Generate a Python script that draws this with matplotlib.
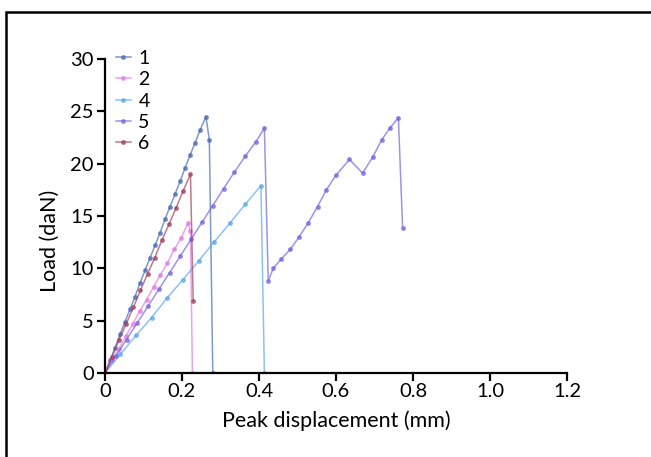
import matplotlib
matplotlib.use("Agg")
import matplotlib.pyplot as plt
from matplotlib.patches import Rectangle

# specimen curves: displacement (mm) / load (daN)
x1 = [0, 0.013, 0.026, 0.039, 0.052, 0.065, 0.078, 0.091, 0.104, 0.117, 0.130,
      0.143, 0.156, 0.169, 0.182, 0.195, 0.208, 0.221, 0.234, 0.247, 0.262, 0.271, 0.280]
y1 = [0, 1.2, 2.4, 3.7, 4.9, 6.1, 7.3, 8.6, 9.8, 11.0, 12.2,
      13.4, 14.7, 15.9, 17.1, 18.3, 19.6, 20.8, 22.0, 23.2, 24.5, 22.3, 0]

x2 = [0, 0.018, 0.036, 0.054, 0.072, 0.090, 0.108, 0.126, 0.144, 0.162, 0.180,
      0.198, 0.215, 0.222, 0.227]
y2 = [0, 1.2, 2.3, 3.5, 4.7, 5.9, 7.0, 8.2, 9.4, 10.5, 11.8,
      12.9, 14.3, 13.6, 0]

x4 = [0, 0.040, 0.081, 0.121, 0.162, 0.202, 0.243, 0.283, 0.324, 0.364, 0.405, 0.414]
y4 = [0, 1.8, 3.6, 5.3, 7.2, 8.9, 10.7, 12.5, 14.3, 16.1, 17.9, 0]

x5 = [0, 0.028, 0.056, 0.084, 0.112, 0.140, 0.168, 0.196, 0.224, 0.252, 0.280,
      0.308, 0.336, 0.364, 0.392, 0.414, 0.424, 0.437, 0.458, 0.481, 0.504,
      0.527, 0.552, 0.575, 0.600, 0.635, 0.669, 0.695, 0.719, 0.740, 0.762, 0.773]
y5 = [0, 1.6, 3.2, 4.8, 6.4, 8.0, 9.6, 11.2, 12.8, 14.4, 16.0,
      17.6, 19.2, 20.7, 22.1, 23.4, 8.8, 10.0, 10.9, 11.8, 13.0,
      14.3, 15.9, 17.5, 18.9, 20.4, 19.1, 20.6, 22.3, 23.4, 24.4, 13.9]

x6 = [0, 0.018, 0.037, 0.055, 0.074, 0.092, 0.111, 0.129, 0.148, 0.166, 0.185,
      0.203, 0.222, 0.229]
y6 = [0, 1.5, 3.2, 4.7, 6.3, 7.9, 9.5, 11.0, 12.7, 14.2, 15.8,
      17.4, 19.0, 6.9]

series = [
    ("1", x1, y1, "#4a6cb8"),
    ("2", x2, y2, "#e27ae8"),
    ("4", x4, y4, "#5aa8ee"),
    ("5", x5, y5, "#7565e0"),
    ("6", x6, y6, "#a3405e"),
]

plt.rcParams["font.family"] = ["Lato", "DejaVu Sans"]

fig = plt.figure(figsize=(6.51, 4.57), dpi=100)
ax = fig.add_axes([105 / 651, 84 / 457, 462 / 651, 314 / 457])

for name, xs, ys, col in series:
    ax.plot(xs, ys, color=col, lw=1.1, alpha=0.7, marker="o", ms=2.5,
            mec=col, mfc=col, label=name)

ax.set_xlim(0, 1.2)
ax.set_ylim(0, 30)
ax.set_xticks([0, 0.2, 0.4, 0.6, 0.8, 1.0, 1.2])
ax.set_xticklabels(["0", "0.2", "0.4", "0.6", "0.8", "1.0", "1.2"])
ax.set_yticks([0, 5, 10, 15, 20, 25, 30])
ax.spines["top"].set_visible(False)
ax.spines["right"].set_visible(False)
for s in ["left", "bottom"]:
    ax.spines[s].set_linewidth(1.6)
ax.tick_params(axis="x", width=1.6, length=6, labelsize=14.5, pad=1.5)
ax.tick_params(axis="y", width=1.6, length=6, labelsize=14.5, pad=2)
ax.set_xlabel("Peak displacement (mm)", fontsize=15.5)
ax.set_ylabel("Load (daN)", fontsize=15.5)
ax.xaxis.set_label_coords(0.5, -0.118)
ax.yaxis.set_label_coords(-0.097, 0.42)

ax.legend(loc="upper left", bbox_to_anchor=(116 / 651, 1 - 50 / 457),
          bbox_transform=fig.transFigure, frameon=False, fontsize=14,
          handlelength=0.75, handletextpad=0.4, labelspacing=0.22,
          borderaxespad=0, borderpad=0)

# outer frame (clipped at right and bottom like the source)
fig.patches.append(Rectangle((6 / 651, -0.1), 1.2, 1.1 - 12 / 457, fill=False,
                             lw=1.8, ec="black", transform=fig.transFigure))

fig.savefig("out.png", dpi=100)
